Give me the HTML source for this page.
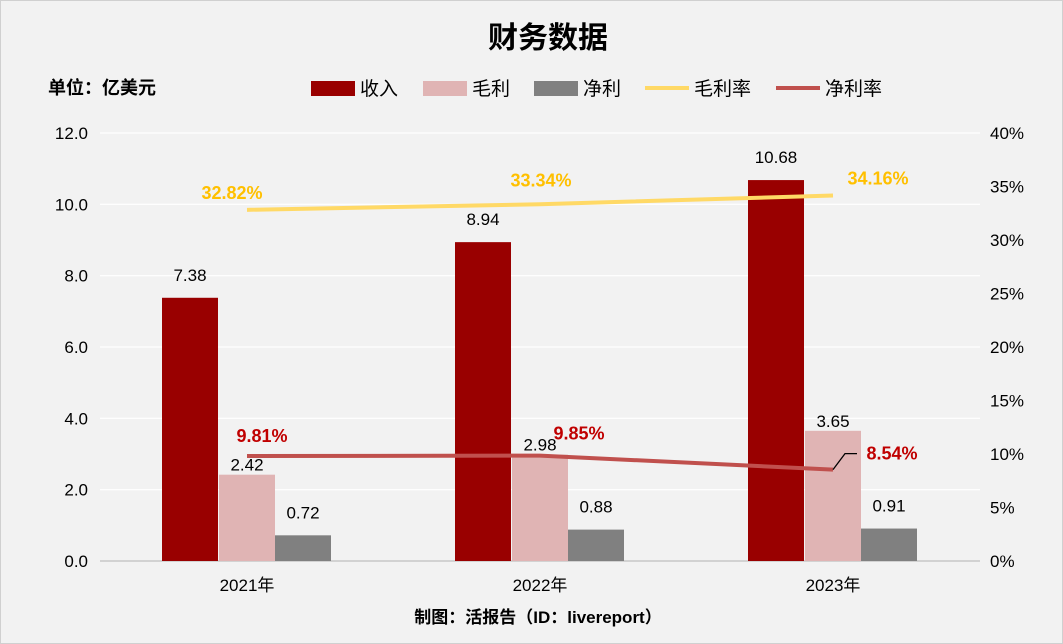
<!DOCTYPE html>
<html><head><meta charset="utf-8"><style>
body{margin:0;background:#f2f2f2;}
svg{display:block;font-family:"Liberation Sans","Noto Sans CJK SC",sans-serif;}
</style></head><body>
<svg id="c" width="1063" height="644">
<rect x="0.5" y="0.5" width="1062" height="643" fill="#f2f2f2" stroke="#d0d0d0"/>
<text x="548" y="48" text-anchor="middle" font-size="30" font-weight="bold" fill="#000">财务数据</text>
<text x="48" y="94" font-size="18" font-weight="bold">单位：亿美元</text>
<g id="legend" font-size="19">
<rect x="311" y="81" width="44" height="15" fill="#990000"/><text x="360" y="95">收入</text>
<rect x="423" y="81" width="44" height="15" fill="#e0b4b4"/><text x="472" y="95">毛利</text>
<rect x="534" y="81" width="44" height="15" fill="#808080"/><text x="583" y="95">净利</text>
<line x1="645" y1="88" x2="689" y2="88" stroke="#ffd966" stroke-width="4"/><text x="694" y="95">毛利率</text>
<line x1="776" y1="88" x2="820" y2="88" stroke="#c0504d" stroke-width="4"/><text x="825" y="95">净利率</text>
</g>
<g id="grid"></g><g id="bars"></g><g id="lines"></g><g id="labels"></g>
<text x="538" y="623" text-anchor="middle" font-size="17" font-weight="bold">制图：活报告（ID：livereport）</text>
</svg>
<script>
const categories=["2021年","2022年","2023年"];
const revenue=[7.38,8.94,10.68];
const grossProfit=[2.42,2.98,3.65];
const netProfit=[0.72,0.88,0.91];
const grossMargin=[32.82,33.34,34.16];
const netMargin=[9.81,9.85,8.54];
const leftTicks=["0.0","2.0","4.0","6.0","8.0","10.0","12.0"];
const rightTicks=["0%","5%","10%","15%","20%","25%","30%","35%","40%"];
const NS="http://www.w3.org/2000/svg";
const y0=561,yTop=133;
const yL=v=>y0-(v/12)*(y0-yTop);
const yR=v=>y0-(v/40)*(y0-yTop);
const xC=i=>247+i*293;
function mk(p,t,a){const e=document.createElementNS(NS,t);for(const k in a)e.setAttribute(k,a[k]);p.appendChild(e);return e;}
const G=document.getElementById('grid'),B=document.getElementById('bars'),L=document.getElementById('lines'),T=document.getElementById('labels');
leftTicks.forEach(t=>{const v=parseFloat(t),y=yL(v);
const l=mk(G,'line',{x1:100,x2:980,y1:y,y2:y,stroke:v===0?'#bfbfbf':'#ffffff','stroke-width':1.2});


const tx=mk(G,'text',{x:88,y:y+6,'text-anchor':'end','font-size':17});tx.textContent=t;

});
rightTicks.forEach(t=>{const y=yR(parseFloat(t));
const tx=mk(G,'text',{x:990,y:y+6,'font-size':17});tx.textContent=t;

});
categories.forEach((c,i)=>{const tx=mk(G,'text',{x:xC(i),y:591,'text-anchor':'middle','font-size':17});tx.textContent=c;

});
const series=[[revenue,'#990000',-85,'revenue',-17],[grossProfit,'#e0b4b4',-28,'gross-profit',-4],[netProfit,'#808080',28,'net-profit',-17]];
series.forEach(([d,col,off,nm,lo])=>d.forEach((v,i)=>{const x=xC(i)+off,y=yL(v);
const r=mk(B,'rect',{x:x,y:y,width:56,height:y0-y,fill:col});


const tx=mk(T,'text',{x:x+28,y:y+lo,'text-anchor':'middle','font-size':17});tx.textContent=v.toFixed(2);

}));
function line(d,col,nm,dxs,dys,c){const pts=d.map((v,i)=>xC(i)+','+yR(v)).join(' ');
const p=mk(L,'polyline',{points:pts,fill:'none',stroke:col,'stroke-width':4});


d.forEach((v,i)=>{
const tx=mk(T,'text',{x:xC(i)+dxs[i],y:yR(v)+dys[i],'text-anchor':'middle','font-size':18,'font-weight':'bold',fill:c});
tx.textContent=v.toFixed(2)+'%';

});}
line(grossMargin,'#ffd966','gross-margin',[-15,1,45],[-11,-18,-11],'#ffc000');
line(netMargin,'#c0504d','net-margin',[15,39,59],[-14,-16,-10],'#c00000');
const ny=yR(netMargin[2]),nx=xC(2);
const ld=mk(L,'polyline',{points:`${nx},${ny} ${nx+12},${ny-16} ${nx+24},${ny-16}`,fill:'none',stroke:'#000','stroke-width':1.3});


</script>
</body></html>
